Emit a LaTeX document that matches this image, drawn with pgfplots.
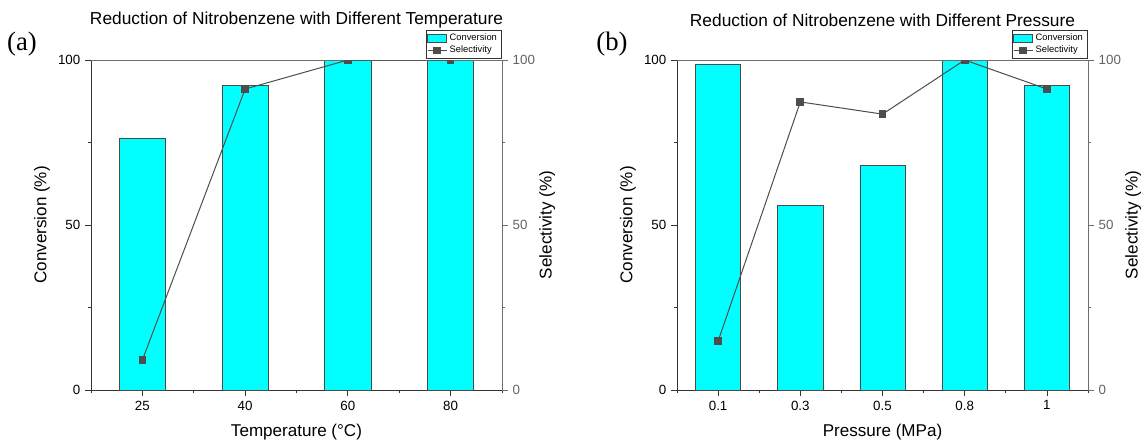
\documentclass[border=0pt]{standalone}
\usepackage{pgfplots}
\pgfplotsset{compat=1.18}
\usepackage{fontspec}
\setmainfont{Liberation Sans}
\newfontfamily\timesfont{Liberation Serif}

\definecolor{barcyan}{HTML}{00FFFF}
\definecolor{edge}{HTML}{4A4A4A}
\definecolor{linegray}{HTML}{4D4D4D}
\definecolor{axdark}{HTML}{333333}
\definecolor{axgray}{HTML}{6E6E6E}

\newcommand{\labfont}{\fontsize{12.8}{15}\selectfont}

\pgfplotsset{
  panel/.style={
    scale only axis, width=308.25pt, height=247.5pt,
    xmin=-0.5, ymin=0, ymax=100,
    tick align=outside, major tick length=4.5pt, minor tick length=2.5pt,
    /pgf/number format/assume math mode=true,
    tick label style={font=\fontsize{10}{12}\selectfont},
  },
  leftpart/.style={
    panel,
    axis y line*=left, axis x line*=bottom,
    axis line style={axdark}, tick style={axdark, line width=0.6pt},
    ytick={0,50,100}, minor ytick={25,75},
    xtick=data,
    every axis y label/.style={at={(axis description cs:-0.1195,0.5)}, anchor=center, rotate=90, font=\labfont},
    every axis x label/.style={at={(axis description cs:0.5,-0.127)}, anchor=center, font=\labfont},
    every axis title/.style={at={(axis description cs:0.5,1.121)}, anchor=center, font=\fontsize{13}{15}\selectfont},
    legend style={at={(axis description cs:0.998,1.003)}, anchor=south east,
      font=\fontsize{7}{8}\selectfont, draw=axdark, inner sep=1pt, row sep=-1.5pt,
      cells={anchor=west}},
  },
  rightpart/.style={
    panel,
    axis y line*=right, axis x line*=top,
    axis line style={axgray}, tick style={axgray, line width=0.6pt},
    xtick=\empty, ytick={0,50,100}, minor ytick={25,75},
    yticklabel style={text=axgray!90!black},
    every axis y label/.style={at={(axis description cs:1.11,0.5)}, anchor=center, rotate=90, font=\labfont},
    clip marker paths=true,
  },
  convbar/.style={ybar, bar width=#1, fill=barcyan, draw=edge, line width=0.6pt,
    legend image code/.code={\draw[fill=barcyan, draw=edge] (0pt,-2.8pt) rectangle (14pt,3.2pt);}},
  selline/.style={color=linegray, line width=0.75pt, mark=square*, mark size=2.5pt,
    mark options={fill=linegray, draw=linegray},
    legend image code/.code={\draw[linegray, line width=0.75pt] (0pt,0pt) -- (14pt,0pt);
      \fill[linegray] (4.5pt,-2.5pt) rectangle (9.5pt,2.5pt);}},
}

\begin{document}
\begin{tikzpicture}
\path[use as bounding box] (0,0) rectangle (856.5pt,333pt);

% ---- (a) temperature ----
\begin{axis}[leftpart, at={(68.25pt,40.5pt)}, xmax=3.5,
    xticklabels={25,40,60,80}, minor xtick={-0.5,0.5,1.5,2.5,3.5},
    xlabel={Temperature (°C)}, ylabel={Conversion (\%)},
    title={Reduction of Nitrobenzene with Different Temperature}]
  \addplot[convbar=0.45] coordinates {(0,76.1) (1,92.3) (2,100) (3,100)};
  \addlegendentry{Conversion}
  \addlegendimage{selline}
  \addlegendentry{Selectivity}
\end{axis}
\begin{axis}[rightpart, at={(68.25pt,40.5pt)}, xmax=3.5, ylabel={Selectivity (\%)}]
  \addplot[selline] coordinates {(0,9.1) (1,91.2) (2,100) (3,100)};
\end{axis}

% ---- (b) pressure ----
\begin{axis}[leftpart, at={(507.75pt,40.5pt)}, xmax=4.5,
    xticklabels={0.1,0.3,0.5,0.8,1}, minor xtick={-0.5,0.5,1.5,2.5,3.5,4.5},
    xlabel={Pressure (MPa)}, ylabel={Conversion (\%)},
    title={Reduction of Nitrobenzene with Different Pressure}]
  \addplot[convbar=0.55] coordinates {(0,98.6) (1,55.9) (2,68.0) (3,100) (4,92.3)};
  \addlegendentry{Conversion}
  \addlegendimage{selline}
  \addlegendentry{Selectivity}
\end{axis}
\begin{axis}[rightpart, at={(507.75pt,40.5pt)}, xmax=4.5, ylabel={Selectivity (\%)}]
  \addplot[selline] coordinates {(0,14.8) (1,87.3) (2,83.6) (3,100) (4,91.2)};
\end{axis}

\node[font=\timesfont\fontsize{20}{22}\selectfont] at (16.5pt,300pt) {(a)};
\node[font=\timesfont\fontsize{20}{22}\selectfont] at (459pt,300pt) {(b)};
\end{tikzpicture}
\end{document}
